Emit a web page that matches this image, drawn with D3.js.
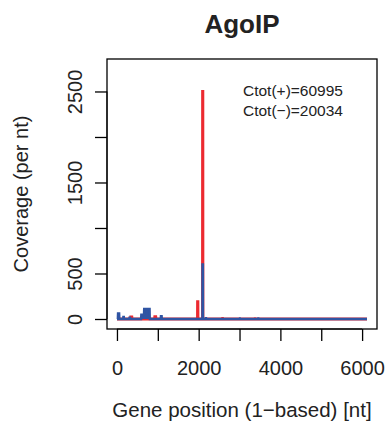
<!DOCTYPE html>
<html>
<head>
<meta charset="utf-8">
<script src="https://cdn.jsdelivr.net/npm/d3@7"></script>
<style>
  body { margin: 0; background: #fff; }
  svg { display: block; font-family: "Liberation Sans", Arial, sans-serif; }
</style>
</head>
<body>
<div id="chart"></div>
<script>
// coverage profile, plus strand (red) and minus strand (blue)
var plusPos = [1, 330, 335, 365, 370, 920, 925, 950, 955, 1970, 1972, 1982, 1984, 2093, 2095, 2103, 2105, 2575, 2580, 2590, 2595, 3370, 3375, 3385, 3390, 6120];
var plusCov = [0, 0, 22, 22, 0, 0, 25, 25, 0, 0, 190, 190, 0, 0, 2500, 2500, 0, 0, 6, 6, 0, 0, 5, 5, 0, 0];

var minusPos = [1, 20, 25, 55, 60, 150, 155, 170, 175, 300, 305, 320, 325, 590, 595, 660, 665, 800, 805, 1070, 1075, 1095, 1100, 2091, 2093, 2105, 2107, 2170, 2175, 2185, 2190, 3000, 3005, 3010, 3015, 3450, 3455, 3465, 3470, 6120];
var minusCov = [0, 0, 62, 62, 0, 0, 22, 22, 0, 0, 14, 14, 0, 0, 47, 47, 110, 110, 0, 0, 30, 30, 0, 0, 600, 600, 0, 0, 8, 8, 0, 0, 6, 6, 0, 0, 6, 6, 0, 0];

var xTicks = [0, 1000, 2000, 3000, 4000, 5000, 6000];
var xTickLabels = ["0", "", "2000", "", "4000", "", "6000"];
var yTicks = [0, 500, 1000, 1500, 2000, 2500];
var yTickLabels = ["0", "500", "", "1500", "", "2500"];

var titleText = "AgoIP";
var xTitle = "Gene position (1\u2212based) [nt]";
var yTitle = "Coverage (per nt)";
var notes = ["Ctot(+)=60995", "Ctot(\u2212)=20034"];

var geneLen = 6120, yMax = 2747;

var W = 389, H = 433;
var margin = {top: 59, right: 12, bottom: 104, left: 107},
  width = W - margin.left - margin.right,
  height = H - margin.top - margin.bottom;

// R style 4% range extension
var xPad = (geneLen - 1) * 0.04, yPad = yMax * 0.04;
var x = d3.scaleLinear().domain([1 - xPad, geneLen + xPad]).range([0, width]);
var y = d3.scaleLinear().domain([-yPad, yMax + yPad]).range([height, 0]);

var svg = d3.select("#chart").append("svg")
  .attr("width", W)
  .attr("height", H);

var g = svg.append("g")
  .attr("transform", "translate(" + margin.left + "," + margin.top + ")");

var line = d3.line()
  .x(function(d) { return x(d[0]); })
  .y(function(d) { return y(d[1]); });

var area = d3.area()
  .x(function(d) { return x(d[0]); })
  .y0(y(0))
  .y1(function(d) { return y(d[1]); });

var plusData = plusPos.map(function(p, i) { return [p, plusCov[i]]; });
var minusData = minusPos.map(function(p, i) { return [p, minusCov[i]]; });

var series = [
  {data: plusData, color: "#ec2a30", lw: 2.8},
  {data: minusData, color: "#2f54a3", lw: 2.3}
];

series.forEach(function(s) {
  g.append("path")
    .datum(s.data)
    .attr("d", area)
    .attr("fill", s.color);
  g.append("path")
    .datum(s.data)
    .attr("d", line)
    .attr("fill", "none")
    .attr("stroke", s.color)
    .attr("stroke-width", s.lw);
});

// box
g.append("rect")
  .attr("width", width)
  .attr("height", height)
  .attr("fill", "none")
  .attr("stroke", "#000")
  .attr("stroke-width", 1.3);

var xAxis = d3.axisBottom(x)
  .tickValues(xTicks)
  .tickSize(12)
  .tickPadding(20)
  .tickFormat(function(d, i) { return xTickLabels[i]; });

var gx = g.append("g")
  .attr("transform", "translate(0," + height + ")")
  .call(xAxis);
gx.select(".domain").attr("d", "M" + x(xTicks[0]) + ",0H" + x(xTicks[xTicks.length - 1]));
gx.selectAll(".tick line").attr("stroke-width", 1.3);
gx.selectAll("text").attr("font-size", "20px").attr("fill", "#222")
  .attr("font-family", "Liberation Sans, Arial, sans-serif");

var yAxis = d3.axisLeft(y)
  .tickValues(yTicks)
  .tickSize(12)
  .tickFormat(function(d, i) { return yTickLabels[i]; });

var gy = g.append("g").call(yAxis);
gy.select(".domain").attr("d", "M0," + y(yTicks[0]) + "V" + y(yTicks[yTicks.length - 1]));
gy.selectAll(".tick line").attr("stroke-width", 1.3);
gy.selectAll("text")
  .attr("x", 0)
  .attr("y", -25)
  .attr("dy", 0)
  .attr("text-anchor", "middle")
  .attr("transform", "rotate(-90)")
  .attr("font-size", "20px")
  .attr("fill", "#222")
  .attr("font-family", "Liberation Sans, Arial, sans-serif");

// annotation
g.selectAll(".note")
  .data(notes)
  .enter().append("text")
  .attr("class", "note")
  .attr("x", 136)
  .attr("y", function(d, i) { return 37 + i * 20; })
  .attr("font-size", "15.5px")
  .attr("fill", "#222")
  .text(function(d) { return d; });

// titles
svg.append("text")
  .attr("x", margin.left + width / 2)
  .attr("y", 33)
  .attr("text-anchor", "middle")
  .attr("font-size", "26px")
  .attr("font-weight", "bold")
  .attr("fill", "#222")
  .text(titleText);

svg.append("text")
  .attr("x", margin.left + width / 2)
  .attr("y", 417)
  .attr("text-anchor", "middle")
  .attr("font-size", "20.5px")
  .attr("fill", "#222")
  .text(xTitle);

svg.append("text")
  .attr("transform", "translate(28," + (margin.top + height / 2) + ") rotate(-90)")
  .attr("text-anchor", "middle")
  .attr("font-size", "20px")
  .attr("fill", "#222")
  .text(yTitle);
</script>
</body>
</html>
